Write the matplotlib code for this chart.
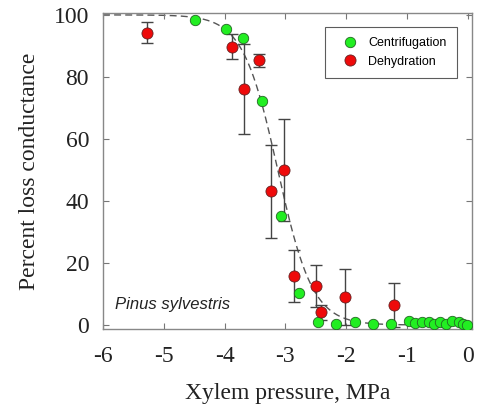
import numpy as np
import matplotlib
matplotlib.use('Agg')
import matplotlib.pyplot as plt

plt.rcParams['axes.unicode_minus'] = False

# centrifugation data (no error bars)
cent_p = [-4.49, -3.98, -3.69, -3.38, -3.07, -2.77, -2.47, -2.17, -1.86, -1.56,
          -1.26, -0.96, -0.86, -0.75, -0.64, -0.56, -0.45, -0.36, -0.26, -0.15,
          -0.07, -0.01]
cent_plc = [98.2, 95.4, 92.7, 72.3, 35.2, 10.2, 1.1, 0.3, 1.1, 0.3,
            0.3, 1.4, 0.5, 1.0, 1.1, 0.3, 0.9, 0.3, 1.3, 0.9,
            0.3, 0.0]

# dehydration data with error bars
dehy_p = [-5.28, -3.87, -3.44, -3.68, -3.23, -3.02, -2.86, -2.50, -2.41, -2.02, -1.21]
dehy_plc = [94.3, 89.8, 85.3, 76.1, 43.1, 50.0, 15.8, 12.6, 4.1, 9.1, 6.5]
dehy_err = [3.3, 4.0, 2.0, 14.6, 15.0, 16.5, 8.5, 6.8, 2.5, 9.0, 7.0]

# fitted vulnerability curve parameters
p50 = -3.125
slope = 3.48

serif = 'Liberation Serif'
sans = 'Liberation Sans'

fig = plt.figure(figsize=(4.78, 4.08), dpi=100)
ax = fig.add_axes([0.2155, 0.1936, 0.7719, 0.7745])

xx = np.linspace(-6, -1.0, 300)
yy = 100.0 / (1.0 + np.exp(slope * (xx - p50)))
ax.plot(xx, yy, color='#555555', lw=1.0, dashes=(5, 3), zorder=1)

ax.errorbar(dehy_p, dehy_plc, yerr=dehy_err, fmt='none', ecolor='#444444',
            elinewidth=1.0, capsize=4, capthick=1.0, zorder=2)
ax.plot(cent_p, cent_plc, 'o', color='#22ee22', mec='#226622', mew=0.6,
        ms=7.5, zorder=3, label='Centrifugation')
ax.plot(dehy_p, dehy_plc, 'o', color='#ee0a0a', mec='#662222', mew=0.6,
        ms=8, zorder=4, label='Dehydration')

ax.set_xlim(-6, 0.07)
ax.set_ylim(-1.3, 100.6)
ax.set_xticks(range(-6, 1))
ax.set_yticks(range(0, 101, 20))
ax.tick_params(direction='in', top=True, right=True, length=4,
               color='#777777', labelsize=17)
ax.tick_params(axis='x', pad=12)
ax.tick_params(axis='y', pad=10)
for lab in ax.get_xticklabels() + ax.get_yticklabels():
    lab.set_fontfamily(serif)
    lab.set_color('#222222')
for s in ax.spines.values():
    s.set_color('#888888')
    s.set_linewidth(1.0)

ax.set_xlabel('Xylem pressure, MPa', fontsize=17, family=serif, color='#222222', labelpad=12)
ax.set_ylabel('Percent loss conductance', fontsize=17, family=serif, color='#222222', labelpad=10)

ax.text(-5.8, 6.5, 'Pinus sylvestris', fontsize=12, style='italic', family=sans,
        color='#222222', va='center')

leg = ax.legend(loc='upper right', bbox_to_anchor=(0.959, 0.956), borderaxespad=0,
                frameon=True, fancybox=False, prop={'family': sans, 'size': 9},
                handletextpad=0.25, borderpad=0.8, labelspacing=0.55, handlelength=2.4)
leg.get_frame().set_edgecolor('#333333')
leg.get_frame().set_linewidth(0.8)

fig.savefig('out.png', dpi=100)
